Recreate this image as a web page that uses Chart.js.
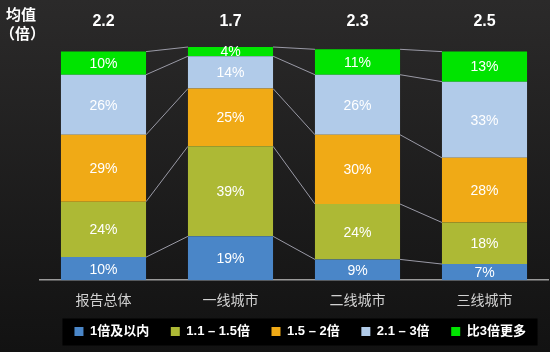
<!DOCTYPE html>
<html>
<head>
<meta charset="utf-8">
<script src="https://cdn.jsdelivr.net/npm/chart.js@4/dist/chart.umd.min.js"></script>
<style>
  html, body { margin: 0; padding: 0; background: #111; }
  canvas { display: block; }
</style>
</head>
<body>
<canvas id="shareChart" width="550" height="352"></canvas>
<script>
const categories = ["报告总体", "一线城市", "二线城市", "三线城市"];
const seriesNames = ["1倍及以内", "1.1 – 1.5倍", "1.5 – 2倍", "2.1 – 3倍", "比3倍更多"];
const within1 = [10, 19, 9, 7];
const from11to15 = [24, 39, 24, 18];
const from15to2 = [29, 25, 30, 28];
const from21to3 = [26, 14, 26, 33];
const over3 = [10, 4, 11, 13];
const meanLabels = ["2.2", "1.7", "2.3", "2.5"];
const colors = ["#4a86c8", "#adb935", "#f0aa16", "#b1cbe9", "#00e400"];

const seriesValues = [within1, from11to15, from15to2, from21to3, over3];

// nudge the legend a bit to the right, like the original slide
const legendShift = {
  id: "legendShift",
  afterLayout(chart) {
    const lg = chart.legend;
    lg.left += 14;
    lg.right += 14;
    lg.legendHitBoxes.forEach(b => { b.left += 14; });
  }
};

// background gradient + black box behind the legend
const backdrop = {
  id: "backdrop",
  beforeDraw(chart) {
    const c = chart.ctx;
    const g = c.createLinearGradient(0, 0, 0, chart.height);
    g.addColorStop(0, "#2b2a2a");
    g.addColorStop(1, "#121212");
    c.save();
    c.fillStyle = g;
    c.fillRect(0, 0, chart.width, chart.height);
    const boxes = chart.legend.legendHitBoxes;
    if (boxes && boxes.length) {
      const left = Math.min(...boxes.map(b => b.left)) - 12;
      const right = Math.max(...boxes.map(b => b.left + b.width)) - 4;
      const mid = boxes[0].top + boxes[0].height / 2;
      c.fillStyle = "#000";
      c.fillRect(left, mid - 13, right - left, 27);
    }
    c.restore();
  }
};

// connector lines, segment labels, mean values and the y caption
const overlay = {
  id: "overlay",
  afterDatasetsDraw(chart) {
    const c = chart.ctx;
    c.save();
    c.strokeStyle = "#9a9aa6";
    c.lineWidth = 1;
    chart.data.datasets.forEach((ds, d) => {
      const bars = chart.getDatasetMeta(d).data;
      for (let i = 0; i < bars.length - 1; i++) {
        const a = bars[i], b = bars[i + 1];
        c.beginPath();
        c.moveTo(a.x + a.width / 2, a.y);
        c.lineTo(b.x - b.width / 2, b.y);
        c.stroke();
      }
    });
    c.fillStyle = "#fff";
    c.textAlign = "center";
    c.textBaseline = "middle";
    c.font = "14px 'Liberation Sans', Arial, sans-serif";
    chart.data.datasets.forEach((ds, d) => {
      chart.getDatasetMeta(d).data.forEach((bar, i) => {
        c.fillText(ds.data[i] + "%", bar.x, (bar.y + bar.base) / 2 + 1);
      });
    });
    c.font = "bold 16px 'Liberation Sans', Arial, sans-serif";
    chart.getDatasetMeta(0).data.forEach((bar, i) => {
      c.fillText(meanLabels[i], bar.x, 22);
    });
    c.textAlign = "left";
    c.font = "bold 15px 'Noto Sans CJK SC', sans-serif";
    c.fillText("均值", 6, 14);
    c.fillText("（倍）", 0, 33);
    c.restore();
  }
};

new Chart(document.getElementById("shareChart"), {
  type: "bar",
  data: {
    labels: categories,
    datasets: seriesValues.map((vals, k) => ({
      label: seriesNames[k],
      data: vals,
      backgroundColor: colors[k],
      borderWidth: 0,
      barPercentage: 0.67,
      categoryPercentage: 1
    }))
  },
  options: {
    responsive: false,
    animation: false,
    layout: { padding: { left: 40, right: 2, top: 47, bottom: 4 } },
    scales: {
      x: {
        stacked: true,
        grid: { display: false, drawTicks: false },
        border: { display: true, color: "#9a9a9a", width: 1.5 },
        ticks: {
          color: "#d2d2d2",
          padding: 11,
          font: { family: "'Noto Sans CJK SC', serif", size: 14 }
        }
      },
      y: { stacked: true, display: false, min: 0, max: 101 }
    },
    plugins: {
      legend: {
        position: "bottom",
        labels: {
          color: "#fff",
          boxWidth: 9,
          boxHeight: 9,
          padding: 6,
          font: { family: "'Liberation Sans', 'Noto Sans CJK SC', sans-serif", size: 13, weight: "bold" },
          generateLabels: chart =>
            Chart.defaults.plugins.legend.labels.generateLabels(chart)
              .map(item => ({ ...item, text: item.text + "\u2003\u2009" }))
        }
      },
      tooltip: { enabled: false }
    }
  },
  plugins: [legendShift, backdrop, overlay]
});
</script>
</body>
</html>
